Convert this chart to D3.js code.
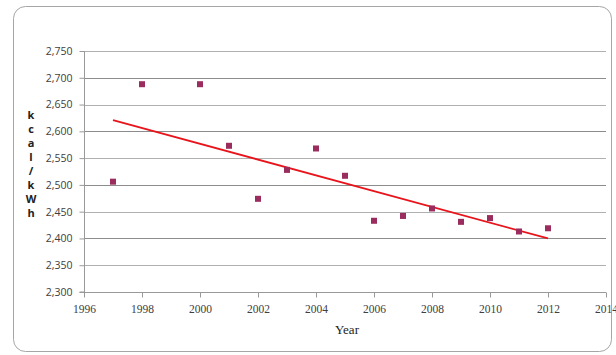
<!DOCTYPE html>
<html><head><meta charset="utf-8">
<script src="https://cdn.jsdelivr.net/npm/d3@7"></script>
<style>body{margin:0;background:#fff}svg{display:block}</style>
</head><body>
<svg id="c" width="616" height="355"></svg>
<script>
const years = [1997,1998,2000,2001,2002,2003,2004,2005,2006,2007,2008,2009,2010,2011,2012];
const values = [2506,2688,2688,2573,2474,2528,2568,2517,2433,2442,2456,2431,2438,2413,2419];
const trendYears = [1997,2012];
const trendValues = [2621,2400];
const xTicks = [1996,1998,2000,2002,2004,2006,2008,2010,2012,2014];
const yTicks = [2300,2350,2400,2450,2500,2550,2600,2650,2700,2750];
const yLabel = "kcal/kWh";
const xLabel = "Year";

const svg = d3.select("#c");
svg.append("rect").attr("x",13.5).attr("y",6.5).attr("width",598).attr("height",345)
  .attr("rx",12).attr("fill","#fff").attr("stroke","#a6a6a6").attr("stroke-width",1);

const x = d3.scaleLinear().domain([1996,2014]).range([84,606]);
const y = d3.scaleLinear().domain([2300,2750]).range([292,51]);

// gridlines
svg.append("g").selectAll("line").data(yTicks.filter(d=>d>2300)).join("line")
  .attr("x1",x(1996)).attr("x2",x(2014))
  .attr("y1",d=>Math.round(y(d))+0.5).attr("y2",d=>Math.round(y(d))+0.5)
  .attr("stroke",(d,i)=> i%2===0 ? "#b0b0b0" : "#8c8c8c").attr("stroke-width",1.2);

// y axis
const ya = svg.append("g").attr("transform",`translate(${x(1996)+0.5},0)`)
  .call(d3.axisLeft(y).tickValues(yTicks).tickSize(5).tickFormat(d3.format(",")));
ya.select(".domain").attr("stroke","#999").attr("d",`M-5,${y(2300)}H0V${y(2750)}`);
ya.selectAll(".tick line").attr("stroke","#999");
ya.selectAll(".tick text").attr("font-family","'Open Sans',sans-serif").attr("font-size",10.5)
  .attr("fill","#404040").attr("x",-12);

// x axis
const xa = svg.append("g").attr("transform",`translate(0,${Math.round(y(2300))+0.5})`)
  .call(d3.axisBottom(x).tickValues(xTicks).tickSize(5).tickFormat(d3.format("d")));
xa.select(".domain").attr("stroke","#999").attr("d",`M${x(1996)},0H${x(2014)}`);
xa.selectAll(".tick line").attr("stroke","#999");
xa.selectAll(".tick text").attr("font-family","'Liberation Serif',serif").attr("font-size",11.5)
  .attr("fill","#404040").attr("dy","1.1em");

// trend line
svg.append("path").datum(trendYears.map((t,i)=>[t,trendValues[i]]))
  .attr("d",d3.line().x(d=>x(d[0])).y(d=>y(d[1])))
  .attr("stroke","#e8141b").attr("stroke-width",1.8).attr("fill","none");

// points
svg.append("g").selectAll("rect").data(years.map((t,i)=>[t,values[i]])).join("rect")
  .attr("x",d=>x(d[0])-3).attr("y",d=>y(d[1])-3).attr("width",6).attr("height",6)
  .attr("fill","#9b2d5e");

// y label stacked
svg.append("g").selectAll("text").data(yLabel.split("")).join("text")
  .attr("x",31).attr("y",(d,i)=>119+i*14).attr("text-anchor","middle")
  .attr("font-family","'Open Sans',sans-serif").attr("font-weight","bold").attr("font-size",11)
  .attr("fill","#222").text(d=>d);

svg.append("text").attr("x",347).attr("y",334).attr("text-anchor","middle")
  .attr("font-family","'Liberation Serif',serif").attr("font-size",13).attr("fill","#222").text(xLabel);
</script>
</body></html>
